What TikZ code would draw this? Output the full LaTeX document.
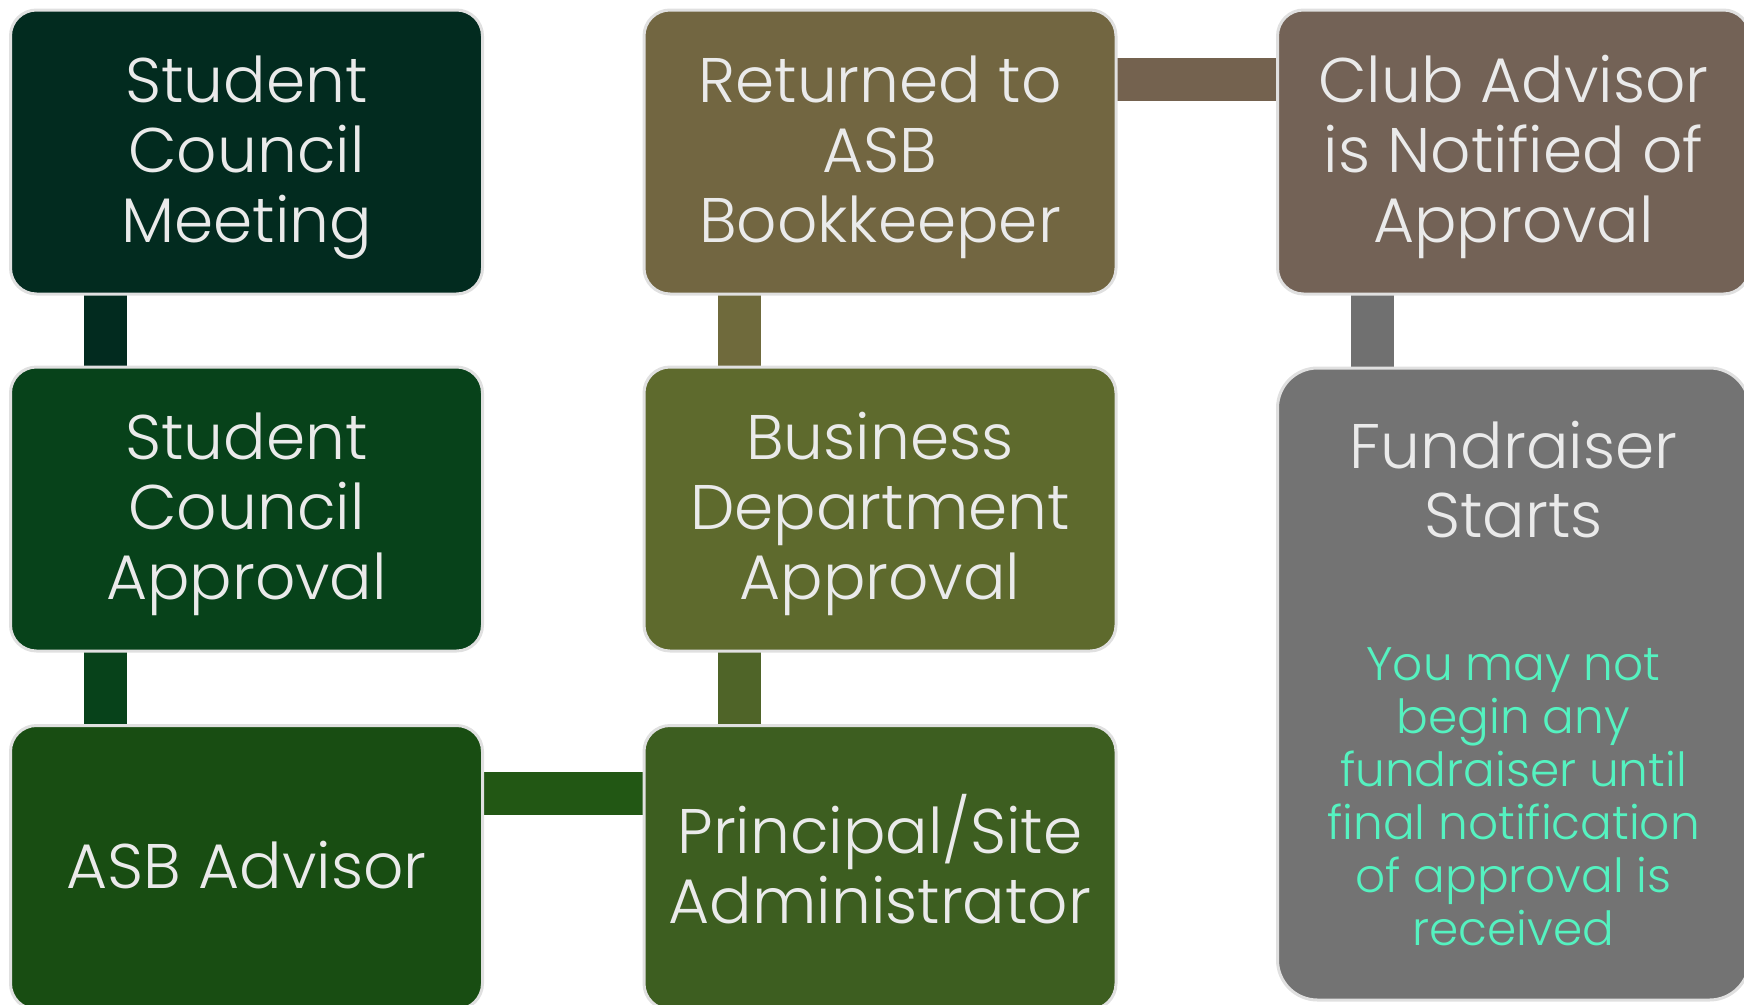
\documentclass[tikz,border=0pt]{standalone}
\usepackage{fontspec}
\setmainfont{Poppins}[UprightFont=* Light]
\usetikzlibrary{calc,backgrounds}
\newcommand{\toprl}{\rule{0pt}{60pt}}
\newcommand{\botrl}{\rule[-19pt]{0pt}{19pt}}
\definecolor{bordergray}{HTML}{E0E0E0}
\definecolor{txt}{HTML}{EAEAEA}
\definecolor{note}{HTML}{55F2C0}
\definecolor{cA}{HTML}{022B1F}
\definecolor{cB}{HTML}{07421A}
\definecolor{cC}{HTML}{184D12}
\definecolor{cCD}{HTML}{225714}
\definecolor{cD}{HTML}{3D5E20}
\definecolor{cDE}{HTML}{4F6428}
\definecolor{cE}{HTML}{5E6A2D}
\definecolor{cEF}{HTML}{6F6A3C}
\definecolor{cF}{HTML}{726641}
\definecolor{cFG}{HTML}{74624F}
\definecolor{cG}{HTML}{736256}
\definecolor{cGH}{HTML}{707070}
\definecolor{cH}{HTML}{737373}
\tikzset{
  box/.style={draw=bordergray, line width=3pt, rounded corners=26pt,
    minimum width=472pt, minimum height=284pt, inner sep=0pt, outer sep=0pt,
    text=txt, align=center, font=\fontsize{63}{70}\selectfont},
  conn/.style={line width=43pt}
}
\begin{document}
\begin{tikzpicture}[x=1pt,y=-1pt]
\useasboundingbox (0,0) rectangle (1744,1004);
\node[box, fill=cA] (b1) at (246.5,152) {\toprl Student\\Council\\Meeting\botrl};
\node[box, fill=cB] (b2) at (246.5,509) {\toprl Student\\Council\\Approval\botrl};
\node[box, fill=cC] (b3) at (246.5,867.5) {\toprl ASB Advisor\botrl};
\node[box, fill=cD] (b4) at (880,867.5) {\toprl Principal/Site\\Administrator\botrl};
\node[box, fill=cE] (b5) at (880,509) {\toprl Business\\Department\\Approval\botrl};
\node[box, fill=cF] (b6) at (880,152) {\toprl Returned to\\ASB\\Bookkeeper\botrl};
\node[box, fill=cG] (b7) at (1513.5,152) {\toprl Club Advisor\\is Notified of\\Approval\botrl};
\node[box, fill=cH, minimum height=632pt, rounded corners=40pt] (b8) at (1513.5,684) {};
\node[text=txt, align=center, font=\fontsize{63}{69}\selectfont] (t8) at (1513.5,482) {\toprl Fundraiser\\Starts\botrl};
\node[text=note, align=center, font=\fontsize{47}{53}\selectfont] (n8) at (1513.5,797) {You may not\\begin any\\fundraiser until\\final notification\\of approval is\\received};
\begin{scope}[on background layer]
\draw[conn, cA] ($(b1.south west)+(95,0)$) -- ($(b2.north west)+(95,0)$);
\draw[conn, cB] ($(b2.south west)+(95,0)$) -- ($(b3.north west)+(95,0)$);
\draw[conn, cCD] ($(b3.north east)+(0,68)$) -- ($(b4.north west)+(0,68)$);
\draw[conn, cDE] ($(b4.north west)+(95,0)$) -- ($(b5.south west)+(95,0)$);
\draw[conn, cEF] ($(b5.north west)+(95,0)$) -- ($(b6.south west)+(95,0)$);
\draw[conn, cFG] ($(b6.north east)+(0,69)$) -- ($(b7.north west)+(0,69)$);
\draw[conn, cGH] ($(b7.south west)+(95,0)$) -- ($(b8.north west)+(95,0)$);
\end{scope}
\end{tikzpicture}
\end{document}
